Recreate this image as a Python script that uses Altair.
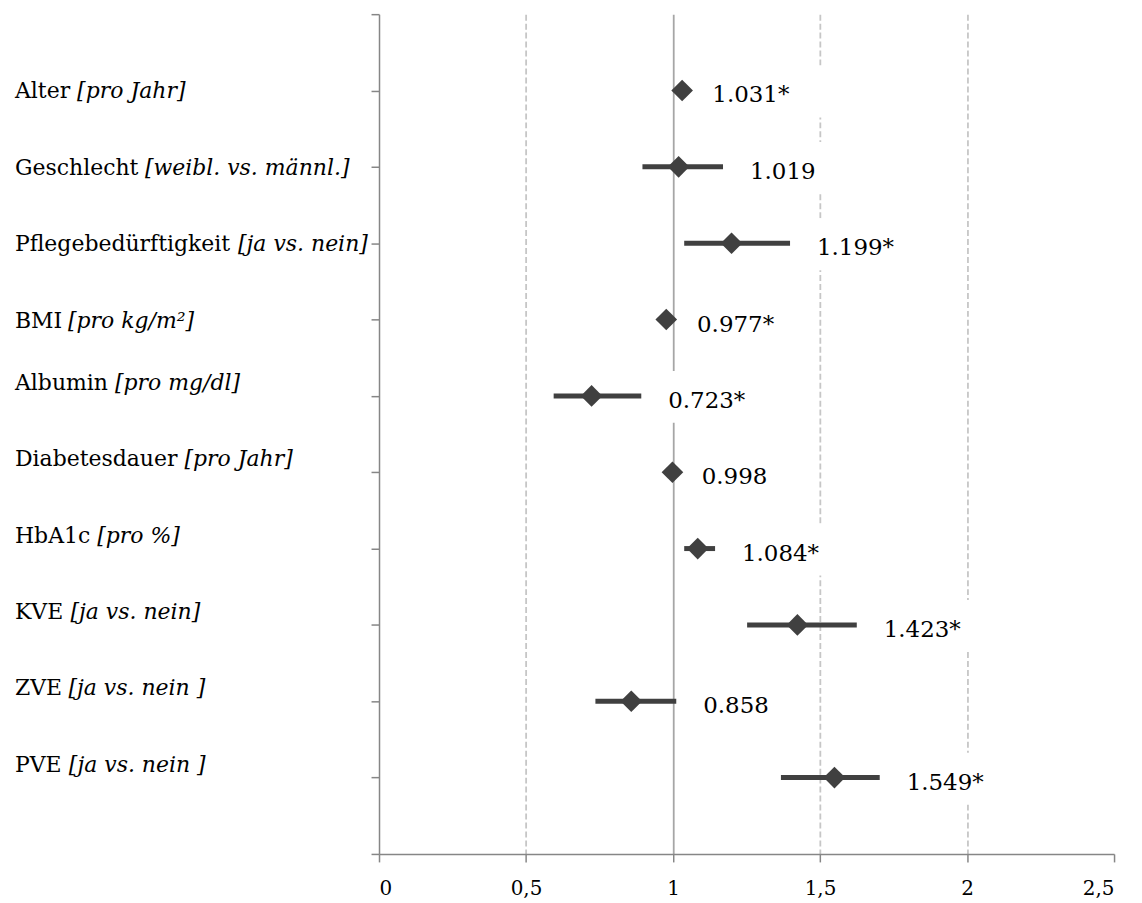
import altair as alt
import pandas as pd

# ---- data ----
names = ["Alter", "Geschlecht", "Pflegebedürftigkeit", "BMI", "Albumin",
         "Diabetesdauer", "HbA1c", "KVE", "ZVE", "PVE"]
units = ["[pro Jahr]", "[weibl. vs. männl.]", "[ja vs. nein]", "[pro kg/m²]",
         "[pro mg/dl]", "[pro Jahr]", "[pro %]", "[ja vs. nein]",
         "[ja vs. nein ]", "[ja vs. nein ]"]
estimates = [1.031, 1.019, 1.199, 0.977, 0.723, 0.998, 1.084, 1.423, 0.858, 1.549]
ci_low = [1.020, 0.896, 1.038, 0.965, 0.594, 0.990, 1.038, 1.252, 0.736, 1.367]
ci_high = [1.042, 1.170, 1.398, 0.990, 0.892, 1.006, 1.143, 1.625, 1.011, 1.703]
significant = [True, False, True, True, True, False, True, True, False, True]
x_ticks = [0, 0.5, 1, 1.5, 2, 2.5]
y_ticks = list(range(0, 12))

FONT = "DejaVu Serif"
LABEL_SIZE = 22
VALUE_SIZE = 23
DARK = "#404040"
AXIS_GRAY = "#868686"

# approximate advance widths (em) of DejaVu Serif, used to place the italic part
CHAR_EM = {
    " ": 0.318, "A": 0.722, "B": 0.735, "D": 0.802, "E": 0.730, "G": 0.775,
    "H": 0.872, "I": 0.372, "K": 0.757, "M": 0.992, "P": 0.684, "V": 0.722,
    "Z": 0.667, "1": 0.636, "a": 0.596, "b": 0.640, "c": 0.560, "d": 0.640,
    "e": 0.592, "f": 0.370, "g": 0.640, "h": 0.644, "i": 0.320, "k": 0.608,
    "l": 0.320, "m": 0.948, "n": 0.644, "r": 0.478, "s": 0.513, "t": 0.402,
    "u": 0.644, "ü": 0.644,
}


def text_width(s, size):
    return sum(CHAR_EM.get(c, 0.6) for c in s) * size


LABEL_LEFT = -365  # label column start, relative to the plot area

n = len(names)
df = pd.DataFrame({
    "name": names,
    "unit": units,
    "est": estimates,
    "lo": ci_low,
    "hi": ci_high,
    "row": [n - i for i in range(n)],
    "value_label": [f"{e:.3f}" + ("*" if s else "") for e, s in zip(estimates, significant)],
    "unit_x": [LABEL_LEFT + text_width(nm + " ", LABEL_SIZE) for nm in names],
})

x_scale = alt.Scale(domain=[0, 2.5], nice=False, zero=False)
y_scale = alt.Scale(domain=[0, 11], nice=False, zero=False)

x_axis = alt.Axis(
    values=x_ticks,
    title=None,
    labelExpr="replace(toString(datum.value), '.', ',')",
    labelFont=FONT, labelFontSize=20, labelColor="#000000", labelPadding=17,
    domainColor=AXIS_GRAY, domainWidth=1.5, tickColor=AXIS_GRAY, tickWidth=1.5, tickSize=8,
    grid=True,
    gridColor={"condition": {"test": "datum.value == 1", "value": "#A6A6A6"}, "value": "#C6C6C6"},
    gridDash={"condition": {"test": "datum.value == 1", "value": []}, "value": [6, 3]},
    gridOpacity={"condition": {"test": "datum.value == 0 || datum.value == 2.5", "value": 0}, "value": 1},
    gridWidth=1.8,
)
y_axis = alt.Axis(
    values=y_ticks, labels=False, title=None, grid=False,
    domainColor=AXIS_GRAY, domainWidth=1.5, tickColor=AXIS_GRAY, tickWidth=1.5, tickSize=8,
)

base = alt.Chart(df)

# white label boxes that interrupt the grid lines
boxes = base.mark_rect(color="white", xOffset=15, x2Offset=140, yOffset=-25, y2Offset=27).encode(
    x=alt.X("hi:Q", scale=x_scale, axis=x_axis),
    x2="hi:Q",
    y=alt.Y("row:Q", scale=y_scale, axis=y_axis),
    y2="row:Q",
)

ci = base.mark_rule(color=DARK, strokeWidth=5).encode(
    x=alt.X("lo:Q", scale=x_scale),
    x2="hi:Q",
    y=alt.Y("row:Q", scale=y_scale),
)

points = base.mark_point(shape="diamond", filled=True, size=470, color=DARK, opacity=1).encode(
    x=alt.X("est:Q", scale=x_scale),
    y=alt.Y("row:Q", scale=y_scale),
)

values = base.mark_text(align="left", baseline="alphabetic", dx=27, dy=12,
                        font=FONT, fontSize=VALUE_SIZE, color="#000000").encode(
    x=alt.X("hi:Q", scale=x_scale),
    y=alt.Y("row:Q", scale=y_scale),
    text="value_label:N",
)


def label_layers(filter_expr, dy):
    reg = base.transform_filter(filter_expr).mark_text(
        align="left", baseline="alphabetic", dy=dy, font=FONT, fontSize=LABEL_SIZE, color="#000000"
    ).encode(
        x=alt.value(LABEL_LEFT),
        y=alt.Y("row:Q", scale=y_scale),
        text="name:N",
    )
    ital = base.transform_filter(filter_expr).mark_text(
        align="left", baseline="alphabetic", dy=dy, font=FONT, fontSize=LABEL_SIZE,
        fontStyle="italic", color="#000000"
    ).encode(
        x=alt.X("unit_x:Q", scale=None, axis=None),
        y=alt.Y("row:Q", scale=y_scale),
        text="unit:N",
    )
    return [reg, ital]


labels = label_layers("datum.row >= 7", 8) + label_layers("datum.row < 7", -6)

chart = alt.layer(boxes, ci, points, values, *labels).properties(
    width=737,
    height=842,
    autosize=alt.AutoSizeParams(type="none"),
    padding={"left": 372, "top": 5, "right": 20, "bottom": 45},
).configure_view(stroke=None)

chart.save("out.html", embed_options={"renderer": "svg", "actions": False})
